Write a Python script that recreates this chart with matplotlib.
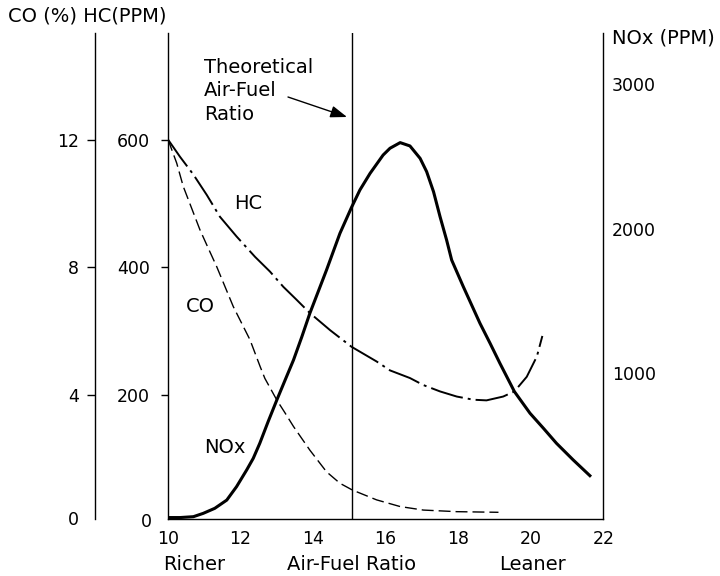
import matplotlib.pyplot as plt

# air-fuel ratio vs emissions
afr_hc = [10.0, 10.33, 10.70, 11.07, 11.43, 11.89, 12.40, 12.81, 13.18, 13.54,
          13.91, 14.47, 15.06, 15.75, 16.12, 16.67, 17.04, 17.50, 17.96, 18.42,
          18.78, 19.24, 19.55, 19.89, 20.17, 20.32]
hc_ppm = [600, 573, 545, 513, 479, 448, 416, 393, 369, 349,
          328, 301, 275, 252, 238, 226, 215, 205, 197, 192,
          191, 197, 205, 228, 260, 292]

afr_co = [10.0, 10.24, 10.42, 10.65, 10.88, 11.11, 11.34, 11.57, 11.80, 12.26,
          12.54, 12.67, 13.00, 13.23, 13.46, 13.91, 14.37, 14.74, 15.08, 15.75,
          16.40, 17.04, 17.96, 19.11]
co_pct = [12.0, 11.26, 10.53, 9.85, 9.17, 8.59, 8.02, 7.39, 6.76, 5.72,
          4.88, 4.51, 3.83, 3.42, 3.00, 2.26, 1.58, 1.22, 1.01, 0.70,
          0.49, 0.38, 0.33, 0.31]

afr_nox = [10.0, 10.33, 10.70, 10.97, 11.29, 11.62, 11.89, 12.17, 12.35, 12.53,
           12.76, 13.00, 13.23, 13.46, 13.69, 13.91, 14.14, 14.37, 14.74, 15.06,
           15.29, 15.57, 15.93, 16.12, 16.40, 16.67, 16.95, 17.13, 17.32, 17.50,
           17.68, 17.82, 18.14, 18.37, 18.60, 18.88, 19.15, 19.55, 19.98, 20.35,
           20.71, 21.17, 21.63]
nox_ppm = [0, 0, 6, 29, 64, 121, 214, 330, 410, 514,
           664, 814, 953, 1091, 1252, 1414, 1564, 1714, 1968, 2148,
           2268, 2383, 2510, 2557, 2596, 2573, 2487, 2395, 2256, 2083,
           1922, 1783, 1599, 1472, 1345, 1206, 1068, 872, 722, 618,
           514, 399, 290]

stoich_afr = 15.08
x_ticks = [10, 12, 14, 16, 18, 20, 22]
hc_ticks = [200, 400, 600]
co_ticks = [4, 8, 12]
nox_ticks = [1000, 2000, 3000]

W, H = 720, 576


def fx(px):
    return px / W


def fy(py):
    return 1 - py / H


fig = plt.figure(figsize=(7.2, 5.76), dpi=100)
ax = fig.add_axes([fx(168), fy(519), (603.3 - 168) / W, (519 - 33) / H])
ax.set_xlim(10, 22)
ax.set_ylim(5, 767)

ax_nox = ax.twinx()
ax_nox.set_ylim(-10, 3355)

ax_co = ax.twinx()
ax_co.set_ylim(5 / 50, 767 / 50)
ax_co.yaxis.set_ticks_position('left')
ax_co.spines['left'].set_position(('axes', (95 - 168) / 435.3))

for s in ['top', 'right']:
    ax.spines[s].set_visible(False)
for s in ['top', 'left', 'bottom']:
    ax_nox.spines[s].set_visible(False)
for s in ['top', 'right', 'bottom']:
    ax_co.spines[s].set_visible(False)
ax_co.spines['left'].set_visible(True)
for a in [ax, ax_nox, ax_co]:
    for s in a.spines.values():
        s.set_linewidth(1.0)

ax.set_xticks(x_ticks)
ax.set_yticks(hc_ticks)
ax_co.set_yticks(co_ticks)
ax_nox.set_yticks(nox_ticks)
ax.tick_params(axis='x', length=0, pad=8, labelsize=12.5)
ax.tick_params(axis='y', length=5.3, width=1, pad=7.7, labelsize=12.5)
ax_co.tick_params(axis='y', length=5.5, width=1, pad=6, labelsize=12.5)
ax_nox.tick_params(axis='y', length=0, pad=6, labelsize=12.5)

# curves
ax.plot(afr_hc, hc_ppm, color='black', lw=1.4, linestyle=(0, (17, 2.6, 1.5, 2.6)))
ax_co.plot(afr_co, co_pct, color='black', lw=1.0, linestyle=(0, (8.6, 3.6)))
ax_nox.plot(afr_nox, nox_ppm, color='black', lw=2.2, solid_joinstyle='round')
ax.axvline(stoich_afr, color='black', lw=1.0)

# zero labels (no tick marks in the original)
fig.text(fx(152), fy(526.7), '0', fontsize=12.5, ha='right', va='baseline')
fig.text(fx(79), fy(525), '0', fontsize=12.5, ha='right', va='baseline')

# axis titles
fig.text(fx(8.3), fy(21.7), 'CO (%) HC(PPM)', fontsize=14, ha='left', va='baseline')
fig.text(fx(611.7), fy(44), 'NOx (PPM)', fontsize=14, ha='left', va='baseline')
fig.text(fx(194.5), fy(570), 'Richer', fontsize=14, ha='center', va='baseline')
fig.text(fx(352), fy(570), 'Air-Fuel Ratio', fontsize=14, ha='center', va='baseline')
fig.text(fx(532.5), fy(570), 'Leaner', fontsize=14, ha='center', va='baseline')

# curve labels
fig.text(fx(248.3), fy(209.3), 'HC', fontsize=14, ha='center', va='baseline')
fig.text(fx(200), fy(311.7), 'CO', fontsize=14, ha='center', va='baseline')
fig.text(fx(225), fy(453.3), 'NOx', fontsize=14, ha='center', va='baseline')

# theoretical ratio note
for txt, yb in [('Theoretical', 72.7), ('Air-Fuel', 96), ('Ratio', 120)]:
    fig.text(fx(204), fy(yb), txt, fontsize=14, ha='left', va='baseline')
ax.annotate('', xy=(347, H - 117), xycoords='figure pixels',
            xytext=(288, H - 97), textcoords='figure pixels',
            arrowprops=dict(arrowstyle='-|>,head_length=0.5,head_width=0.18',
                            color='black', lw=1.0, mutation_scale=20,
                            shrinkA=0, shrinkB=0))

fig.savefig('out.png', dpi=100)
